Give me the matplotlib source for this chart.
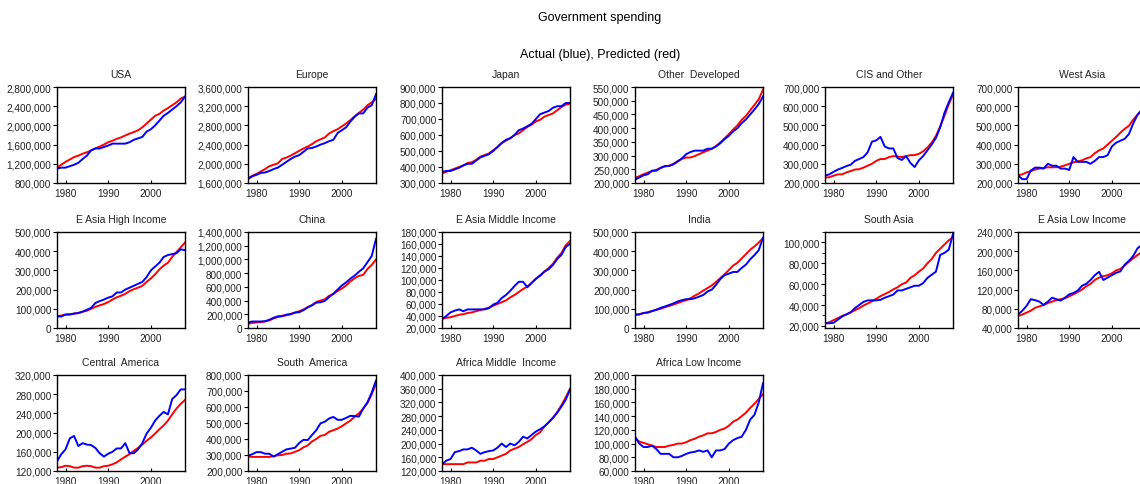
import matplotlib
matplotlib.use("Agg")
import matplotlib.pyplot as plt
from matplotlib.ticker import FuncFormatter, MultipleLocator, FixedLocator

plt.rcParams['font.family'] = ['Liberation Sans', 'DejaVu Sans']

years = list(range(1978, 2009))

regions = ["USA", "Europe", "Japan", "Other  Developed", "CIS and Other", "West Asia",
           "E Asia High Income", "China", "E Asia Middle Income", "India", "South Asia",
           "E Asia Low Income", "Central  America", "South  America", "Africa Middle  Income",
           "Africa Low Income"]

# values in thousands
usa_actual = [1100, 1120, 1120, 1150, 1180, 1220, 1300, 1370, 1480, 1520, 1520, 1550, 1580, 1620, 1620, 1620,
              1620, 1650, 1700, 1730, 1760, 1870, 1920, 2000, 2100, 2200, 2260, 2330, 2400, 2480, 2600]
usa_pred = [1120, 1180, 1240, 1290, 1340, 1370, 1410, 1440, 1480, 1520, 1560, 1600, 1650, 1680, 1720, 1750,
            1790, 1830, 1860, 1900, 1960, 2040, 2120, 2200, 2240, 2310, 2360, 2420, 2480, 2560, 2600]

europe_actual = [1680, 1740, 1770, 1810, 1820, 1850, 1890, 1920, 1980, 2040, 2100, 2150, 2180, 2250, 2320, 2330,
                 2360, 2400, 2430, 2470, 2500, 2640, 2700, 2760, 2880, 2980, 3050, 3050, 3170, 3220, 3450]
europe_pred = [1700, 1750, 1790, 1840, 1890, 1950, 1980, 2010, 2100, 2130, 2170, 2220, 2270, 2320, 2360, 2410,
               2470, 2510, 2550, 2630, 2680, 2720, 2780, 2840, 2910, 2990, 3060, 3130, 3220, 3280, 3350]

japan_actual = [370, 375, 375, 385, 395, 410, 420, 420, 440, 460, 470, 480, 500, 525, 550, 570,
                580, 600, 630, 640, 655, 670, 700, 730, 740, 750, 770, 780, 780, 800, 800]
japan_pred = [360, 370, 380, 390, 400, 410, 425, 430, 445, 465, 475, 485, 505, 525, 550, 565,
              580, 600, 610, 630, 650, 665, 685, 695, 715, 725, 735, 755, 775, 790, 795]

otherdev_actual = [212, 220, 228, 232, 245, 245, 255, 262, 262, 268, 278, 290, 305, 313, 318, 318,
                   318, 325, 325, 333, 345, 360, 372, 388, 400, 418, 432, 450, 468, 488, 515]
otherdev_pred = [218, 225, 232, 238, 243, 248, 255, 260, 263, 270, 280, 288, 293, 293, 298, 305,
                 312, 318, 325, 335, 348, 363, 378, 395, 410, 430, 445, 465, 485, 505, 540]

cis_actual = [238, 245, 258, 270, 278, 288, 295, 315, 325, 335, 360, 415, 422, 440, 390, 380,
              380, 330, 320, 340, 305, 283, 318, 340, 370, 400, 435, 490, 565, 620, 670]
cis_pred = [228, 230, 238, 245, 245, 255, 262, 270, 272, 280, 290, 300, 315, 325, 325, 335,
            340, 338, 335, 340, 345, 345, 352, 365, 385, 410, 445, 495, 550, 610, 660]

westasia_actual = [240, 220, 220, 265, 280, 280, 275, 300, 290, 290, 275, 275, 268, 335, 310, 310,
                   310, 300, 315, 335, 335, 345, 390, 410, 420, 430, 455, 510, 555, 580, 610]
westasia_pred = [240, 245, 255, 262, 270, 275, 278, 282, 282, 282, 285, 292, 300, 308, 312, 318,
                 328, 335, 355, 370, 380, 400, 420, 440, 462, 482, 498, 530, 555, 580, 610]

eahigh_actual = [60, 60, 70, 70, 75, 78, 85, 95, 105, 130, 140, 148, 158, 165, 185, 185,
                 200, 210, 220, 230, 240, 265, 300, 320, 340, 370, 380, 385, 390, 410, 405]
eahigh_pred = [60, 65, 70, 72, 75, 78, 85, 90, 100, 110, 118, 125, 135, 148, 160, 168,
               178, 192, 202, 210, 220, 240, 258, 280, 305, 325, 340, 370, 395, 420, 445]

china_actual = [80, 95, 95, 95, 100, 120, 150, 170, 170, 195, 200, 225, 230, 260, 300, 330,
                370, 375, 395, 450, 500, 560, 620, 665, 720, 765, 820, 870, 960, 1050, 1300]
china_pred = [60, 75, 80, 85, 95, 110, 140, 160, 180, 185, 205, 225, 245, 270, 305, 335,
              380, 400, 420, 470, 495, 540, 575, 620, 680, 725, 760, 775, 860, 920, 1000]

eamid_actual = [35, 40, 46, 49, 51, 48, 51, 51, 51, 51, 51, 53, 59, 62, 70, 75,
                82, 90, 97, 97, 88, 95, 102, 107, 114, 118, 125, 135, 142, 155, 160]
eamid_pred = [35, 37, 38, 40, 42, 43, 45, 46, 48, 50, 52, 54, 57, 60, 63, 66,
              71, 75, 80, 85, 89, 95, 102, 108, 114, 120, 127, 137, 145, 158, 165]

india_actual = [70, 70, 78, 80, 88, 95, 105, 112, 120, 128, 138, 145, 150, 150, 155, 163,
                172, 190, 200, 225, 255, 275, 283, 292, 292, 313, 330, 358, 380, 405, 470]
india_pred = [70, 72, 78, 82, 88, 95, 100, 108, 115, 122, 130, 138, 145, 155, 168, 180,
              195, 208, 222, 240, 260, 280, 302, 325, 340, 362, 385, 408, 425, 445, 468]

southasia_actual = [22.5, 22.5, 23, 26, 29, 31, 33, 37, 40, 43, 44.5, 44.5, 44.5, 45, 47, 48.5,
                    50, 54, 54, 55.5, 57, 58.5, 58.5, 61, 66, 69, 72, 88, 90, 93, 108]
southasia_pred = [22.5, 23.5, 25.5, 27.5, 29.5, 31, 33, 35, 37, 39.5, 41.5, 43.5, 46, 48.5, 50.5, 52.5,
                  55, 57, 60, 61.5, 66, 68.5, 72, 75, 80, 84, 90, 94, 98, 102, 105]

ealow_actual = [68, 76, 86, 100, 98, 95, 88, 95, 103, 100, 97, 103, 110, 113, 118, 128,
                132, 140, 150, 157, 140, 145, 150, 155, 158, 172, 180, 190, 206, 213, 220]
ealow_pred = [65, 68, 72, 76, 82, 85, 88, 92, 95, 98, 100, 102, 106, 110, 115, 120,
              127, 132, 140, 145, 148, 150, 154, 160, 163, 170, 178, 185, 192, 198, 205]

centam_actual = [140, 155, 165, 188, 193, 172, 178, 175, 174, 168, 157, 150, 156, 160, 167, 167,
                 178, 157, 157, 165, 178, 198, 210, 225, 235, 243, 238, 270, 278, 290, 290]
centam_pred = [127, 128, 131, 130, 127, 127, 130, 131, 130, 127, 127, 130, 131, 134, 138, 144,
               150, 155, 162, 168, 175, 183, 190, 198, 207, 215, 225, 238, 250, 260, 268]

southam_actual = [295, 305, 318, 318, 308, 308, 290, 305, 320, 335, 340, 345, 375, 395, 393, 425,
                  455, 498, 508, 528, 538, 520, 520, 532, 545, 543, 540, 590, 630, 690, 765]
southam_pred = [290, 288, 288, 288, 288, 288, 293, 298, 300, 308, 310, 320, 330, 348, 360, 385,
                400, 420, 425, 445, 455, 465, 480, 498, 515, 540, 560, 590, 625, 680, 745]

afmid_actual = [140, 150, 155, 175, 178, 183, 183, 188, 180, 170, 175, 178, 180, 188, 200, 190,
                200, 195, 205, 220, 215, 225, 235, 242, 250, 262, 275, 290, 308, 328, 358]
afmid_pred = [140, 140, 140, 140, 140, 140, 145, 145, 145, 150, 150, 155, 155, 160, 165, 170,
              180, 185, 190, 198, 205, 213, 225, 233, 250, 262, 275, 292, 312, 335, 360]

aflow_actual = [110, 100, 95, 95, 97, 92, 85, 85, 85, 80, 80, 82, 85, 87, 88, 90,
                88, 90, 80, 90, 90, 92, 100, 105, 108, 110, 120, 135, 142, 160, 188]
aflow_pred = [108, 103, 101, 99, 97, 95, 95, 95, 97, 98, 100, 100, 102, 105, 107, 110,
              112, 115, 115, 117, 120, 122, 126, 132, 135, 140, 145, 152, 158, 165, 172]

actual = [usa_actual, europe_actual, japan_actual, otherdev_actual, cis_actual, westasia_actual,
          eahigh_actual, china_actual, eamid_actual, india_actual, southasia_actual, ealow_actual,
          centam_actual, southam_actual, afmid_actual, aflow_actual]
predicted = [usa_pred, europe_pred, japan_pred, otherdev_pred, cis_pred, westasia_pred,
             eahigh_pred, china_pred, eamid_pred, india_pred, southasia_pred, ealow_pred,
             centam_pred, southam_pred, afmid_pred, aflow_pred]

# y-axis (min, max, major step) in thousands
y_axes = [(800, 2800, 400), (1600, 3600, 400), (300, 900, 100), (200, 550, 50), (200, 700, 100),
          (200, 700, 100), (0, 500, 100), (0, 1400, 200), (20, 180, 20), (0, 500, 100),
          (18, 110, 20), (40, 240, 40), (120, 320, 40), (200, 800, 100), (120, 400, 40),
          (60, 200, 20)]
x_ticks = [1980, 1990, 2000]

W, H = 1140, 485
fig = plt.figure(figsize=(W / 100, H / 100), dpi=100)

col_left = [57, 248, 442, 635, 825, 1018]
row_top = [88, 233, 376]
ax_w, ax_h = 128, 96

fig.text(600 / W, 1 - 18 / H, "Government spending", ha='center', va='center', fontsize=9)
fig.text(600 / W, 1 - 55 / H, "Actual (blue), Predicted (red)", ha='center', va='center', fontsize=9)

fmt = FuncFormatter(lambda v, p: f"{int(round(v * 1000)):,}")

for i, name in enumerate(regions):
    r, c = divmod(i, 6)
    left = col_left[c]
    top = row_top[r]
    ax = fig.add_axes([left / W, 1 - (top + ax_h) / H, ax_w / W, ax_h / H])
    ax.plot(years, predicted[i], color='#ff0000', lw=1.4)
    ax.plot(years, actual[i], color='#0000ff', lw=1.4)
    lo, hi, step = y_axes[i]
    ax.set_xlim(1978, 2008)
    ax.set_ylim(lo, hi)
    if name == "South Asia":
        ax.yaxis.set_major_locator(FixedLocator([20, 40, 60, 80, 100]))
        ax.yaxis.set_minor_locator(MultipleLocator(10))
    else:
        ax.yaxis.set_major_locator(MultipleLocator(step))
    ax.yaxis.set_major_formatter(fmt)
    ax.set_xticks(x_ticks)
    ax.tick_params(axis='y', direction='out', length=3, width=0.8, labelsize=7.2, pad=1,
                   labelcolor='#222222')
    ax.tick_params(axis='y', which='minor', direction='out', length=2, width=0.6)
    ax.tick_params(axis='x', direction='in', length=2, width=0.8, labelsize=7.2, pad=3.5,
                   labelcolor='#222222')
    for s in ax.spines.values():
        s.set_linewidth(1.0)
        s.set_color('black')
    ax.set_title(name, fontsize=7.5, pad=7, color='#222222')

fig.savefig("out.png", dpi=100)
